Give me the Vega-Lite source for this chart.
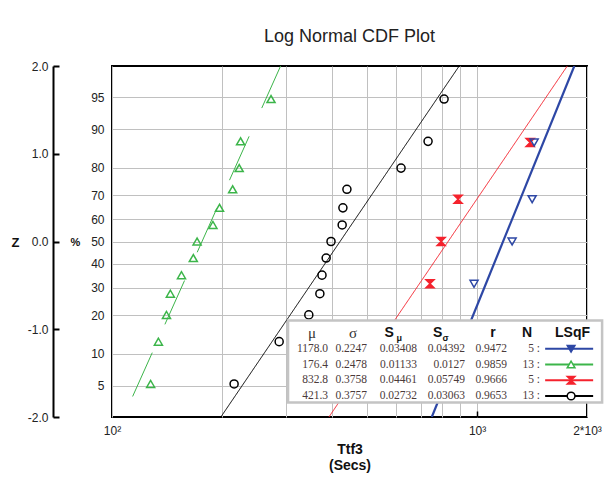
{
  "$schema": "https://vega.github.io/schema/vega-lite/v6.json",
  "autosize": {"type": "none"},
  "width": 475,
  "height": 351,
  "padding": {"left": 112, "top": 66, "right": 18, "bottom": 60},
  "background": "white",
  "title": {"text": "Log Normal CDF Plot", "fontSize": 18, "fontWeight": "normal", "font": "Liberation Sans", "color": "#222222", "anchor": "middle", "offset": 0, "baseline": "alphabetic"},
  "config": {
    "view": {"stroke": "#000000", "strokeWidth": 2},
    "font": "Liberation Sans",
    "axis": {"labelFont": "Liberation Sans", "titleFont": "Liberation Sans", "labelOverlap": false}
  },
  "datasets": {
    "points": [
      {"series": "green", "t": 127.6, "pct": 5.2, "z": -1.6236},
      {"series": "green", "t": 134, "pct": 12.7, "z": -1.1413},
      {"series": "green", "t": 141, "pct": 20.1, "z": -0.8363},
      {"series": "green", "t": 144.5, "pct": 27.6, "z": -0.5944},
      {"series": "green", "t": 155, "pct": 35.1, "z": -0.3833},
      {"series": "green", "t": 167, "pct": 42.5, "z": -0.1882},
      {"series": "green", "t": 171, "pct": 50, "z": 0},
      {"series": "green", "t": 189, "pct": 57.5, "z": 0.1882},
      {"series": "green", "t": 197, "pct": 64.9, "z": 0.3833},
      {"series": "green", "t": 214, "pct": 72.4, "z": 0.5944},
      {"series": "green", "t": 223, "pct": 79.9, "z": 0.8363},
      {"series": "green", "t": 225, "pct": 87.3, "z": 1.1413},
      {"series": "green", "t": 272.6, "pct": 94.8, "z": 1.6236},
      {"series": "black", "t": 216, "pct": 5.2, "z": -1.6236},
      {"series": "black", "t": 287, "pct": 12.7, "z": -1.1413},
      {"series": "black", "t": 346, "pct": 20.1, "z": -0.8363},
      {"series": "black", "t": 371, "pct": 27.6, "z": -0.5944},
      {"series": "black", "t": 376, "pct": 35.1, "z": -0.3833},
      {"series": "black", "t": 386, "pct": 42.5, "z": -0.1882},
      {"series": "black", "t": 398, "pct": 50, "z": 0},
      {"series": "black", "t": 427, "pct": 57.5, "z": 0.1882},
      {"series": "black", "t": 429, "pct": 64.9, "z": 0.3833},
      {"series": "black", "t": 440, "pct": 72.4, "z": 0.5944},
      {"series": "black", "t": 619, "pct": 79.9, "z": 0.8363},
      {"series": "black", "t": 734, "pct": 87.3, "z": 1.1413},
      {"series": "black", "t": 812, "pct": 94.8, "z": 1.6236},
      {"series": "red", "t": 545, "pct": 13, "z": -1.1282},
      {"series": "red", "t": 743, "pct": 31.5, "z": -0.4823},
      {"series": "red", "t": 797, "pct": 50, "z": 0},
      {"series": "red", "t": 887, "pct": 68.5, "z": 0.4823},
      {"series": "red", "t": 1397, "pct": 87, "z": 1.1282},
      {"series": "blue", "t": 914, "pct": 13, "z": -1.1282},
      {"series": "blue", "t": 981, "pct": 31.5, "z": -0.4823},
      {"series": "blue", "t": 1247, "pct": 50, "z": 0},
      {"series": "blue", "t": 1415, "pct": 68.5, "z": 0.4823},
      {"series": "blue", "t": 1433, "pct": 87, "z": 1.1282}
    ],
    "fits": [
      {"series": "blue", "t": 751.6, "z": -2},
      {"series": "blue", "t": 1846.4, "z": 2},
      {"series": "green", "t": 113.9, "z": -1.766},
      {"series": "green", "t": 289.6, "z": 2},
      {"series": "red", "t": 392.8, "z": -2},
      {"series": "red", "t": 1765.9, "z": 2},
      {"series": "black", "t": 198.7, "z": -2},
      {"series": "black", "t": 893.2, "z": 2}
    ],
    "table": [
      {"series": "blue", "mu": "1178.0", "sigma": "0.2247", "smu": "0.03408", "ssig": "0.04392", "r": "0.9472", "n": "5 :"},
      {"series": "green", "mu": "176.4", "sigma": "0.2478", "smu": "0.01133", "ssig": "0.0127", "r": "0.9859", "n": "13 :"},
      {"series": "red", "mu": "832.8", "sigma": "0.3758", "smu": "0.04461", "ssig": "0.05749", "r": "0.9666", "n": "5 :"},
      {"series": "black", "mu": "421.3", "sigma": "0.3757", "smu": "0.02732", "ssig": "0.03063", "r": "0.9653", "n": "13 :"}
    ]
  },
  "layer": [
    {
      "layer": [
        {
          "data": {"name": "fits"},
          "transform": [{"filter": "datum.series != 'blue'"}],
          "mark": {"type": "line", "strokeWidth": 1, "clip": true},
          "encoding": {
            "x": {
              "field": "t", "type": "quantitative",
              "scale": {"type": "log", "domain": [100, 2000], "nice": false},
              "axis": {
                "orient": "bottom",
                "values": [100, 200, 300, 400, 500, 600, 700, 800, 900, 1000, 2000],
                "tickCount": 30,
                "labelExpr": "datum.value == 100 ? '10²' : datum.value == 1000 ? '10³' : datum.value == 2000 ? '2*10³' : ''",
                "labelOverlap": false,
                "labelFlush": false,
                "labelFontSize": 12,
                "labelColor": "#222222",
                "labelPadding": 14,
                "title": ["Ttf3", "(Secs)"],
                "titleFontSize": 14,
                "titleFontWeight": "bold",
                "titleColor": "#111111",
                "titlePadding": 6,
                "grid": true,
                "gridColor": "#c0c0c0",
                "ticks": true,
                "tickSize": -6,
                "tickWidth": 1.5,
                "tickColor": {"condition": {"test": "datum.value == 1000", "value": "#000000"}, "value": "transparent"},
                "domain": false
              }
            },
            "y": {
              "field": "z", "type": "quantitative",
              "scale": {"domain": [-2, 2], "nice": false, "zero": false},
              "axis": {
                "values": [-1.6449, -1.2816, -0.8416, -0.5244, -0.2533, 0, 0.2533, 0.5244, 0.8416, 1.2816, 1.6449],
                "tickCount": 30,
                "labelExpr": "datum.value < -1.5 ? '5' : datum.value < -1 ? '10' : datum.value < -0.7 ? '20' : datum.value < -0.4 ? '30' : datum.value < -0.1 ? '40' : datum.value < 0.1 ? '50' : datum.value < 0.4 ? '60' : datum.value < 0.7 ? '70' : datum.value < 1 ? '80' : datum.value < 1.5 ? '90' : '95'",
                "labelOverlap": false,
                "labelFontSize": 12,
                "labelColor": "#222222",
                "labelPadding": 8,
                "labelFlush": false,
                "title": "%",
                "titleAngle": 0,
                "titleAlign": "center",
                "titleBaseline": "middle",
                "titleX": -37,
                "titleY": 176,
                "titleFontSize": 11,
                "titleFontWeight": "bold",
                "titleColor": "#111111",
                "grid": true,
                "gridColor": "#c0c0c0",
                "ticks": false,
                "domain": false
              }
            },
            "stroke": {"field": "series", "type": "nominal", "scale": {"domain": ["blue", "green", "red", "black"], "range": ["#2d47a5", "#3cb54a", "#f5222d", "#000000"]}, "legend": null},
            "strokeDash": {"field": "series", "type": "nominal", "scale": {"domain": ["blue", "green", "red", "black"], "range": [[1, 0], [48, 31], [1, 0], [1, 0]]}, "legend": null}
          }
        },
        {
          "data": {"name": "fits"},
          "transform": [{"filter": "datum.series == 'blue'"}],
          "mark": {"type": "line", "strokeWidth": 2.2, "clip": true},
          "encoding": {
            "x": {"field": "t", "type": "quantitative"},
            "y": {"field": "z", "type": "quantitative"},
            "stroke": {"field": "series", "type": "nominal", "legend": null}
          }
        },
        {
          "data": {"name": "points"},
          "mark": {"type": "point", "filled": true, "size": 65, "strokeWidth": 1.5, "opacity": 1},
          "encoding": {
            "x": {"field": "t", "type": "quantitative"},
            "y": {"field": "z", "type": "quantitative"},
            "shape": {"field": "series", "type": "nominal", "scale": {"domain": ["blue", "green", "red", "black"], "range": ["triangle-down", "triangle-up", "M-1,-1H1L0,0L1,1H-1L0,0Z", "circle"]}, "legend": null},
            "stroke": {"field": "series", "type": "nominal", "legend": null},
            "fill": {"field": "series", "type": "nominal", "scale": {"domain": ["blue", "green", "red", "black"], "range": ["transparent", "transparent", "#f5222d", "transparent"]}, "legend": null}
          }
        },
        {
          "data": {"values": [{"box": "legend"}]},
          "mark": {"type": "rect", "fill": "white", "stroke": "#c4c4c4", "strokeWidth": 2.5, "clip": false},
          "encoding": {
            "x": {"datum": 303.5, "type": "quantitative"},
            "x2": {"datum": 2200},
            "y": {"datum": -0.9, "type": "quantitative"},
            "y2": {"datum": -1.835}
          }
        }
      ]
    },
    {
      "data": {"values": [{"z": -2}, {"z": 2}]},
      "mark": {"type": "point", "opacity": 0},
      "encoding": {
        "y": {
          "field": "z", "type": "quantitative",
          "scale": {"domain": [-2, 2], "nice": false, "zero": false},
          "axis": {
            "orient": "left",
            "offset": 59,
            "values": [-2, -1, 0, 1, 2],
            "tickCount": 30,
            "labelExpr": "datum.value < 0 ? '-' + format(-datum.value, '.1f') : format(datum.value, '.1f')",
            "labelFontSize": 12,
            "labelColor": "#222222",
            "labelPadding": 11,
            "labelFlush": false,
            "title": "Z",
            "titleAngle": 0,
            "titleAlign": "center",
            "titleBaseline": "middle",
            "titleX": -38,
            "titleY": 176,
            "titleFontSize": 13,
            "titleFontWeight": "bold",
            "titleColor": "#111111",
            "grid": false,
            "domainColor": "#000000",
            "domainWidth": 2,
            "tickColor": "#000000",
            "tickWidth": 2,
            "tickSize": -6
          }
        }
      }
    },
    {
      "data": {"name": "table"},
      "encoding": {
        "y": {"field": "series", "type": "ordinal", "scale": {"type": "point", "domain": ["hdr", "blue", "green", "red", "black"], "range": [267, 330], "padding": 0}, "axis": null}
      },
      "layer": [
        {"mark": {"type": "text", "align": "right", "baseline": "middle", "font": "Liberation Serif", "fontSize": 11.5, "color": "#4a3a3a"},
         "encoding": {"x": {"datum": 390.7, "type": "quantitative"}, "text": {"field": "mu"}}},
        {"mark": {"type": "text", "align": "right", "baseline": "middle", "font": "Liberation Serif", "fontSize": 11.5, "color": "#4a3a3a"},
         "encoding": {"x": {"datum": 499.6, "type": "quantitative"}, "text": {"field": "sigma"}}},
        {"mark": {"type": "text", "align": "right", "baseline": "middle", "font": "Liberation Serif", "fontSize": 11.5, "color": "#4a3a3a"},
         "encoding": {"x": {"datum": 684.8, "type": "quantitative"}, "text": {"field": "smu"}}},
        {"mark": {"type": "text", "align": "right", "baseline": "middle", "font": "Liberation Serif", "fontSize": 11.5, "color": "#4a3a3a"},
         "encoding": {"x": {"datum": 927.1, "type": "quantitative"}, "text": {"field": "ssig"}}},
        {"mark": {"type": "text", "align": "right", "baseline": "middle", "font": "Liberation Serif", "fontSize": 11.5, "color": "#4a3a3a"},
         "encoding": {"x": {"datum": 1208.4, "type": "quantitative"}, "text": {"field": "r"}}},
        {"mark": {"type": "text", "align": "right", "baseline": "middle", "font": "Liberation Serif", "fontSize": 11.5, "color": "#4a3a3a"},
         "encoding": {"x": {"datum": 1487.6, "type": "quantitative"}, "text": {"field": "n"}}},
        {"mark": {"type": "rule", "strokeWidth": 2},
         "encoding": {"x": {"datum": 1536, "type": "quantitative"}, "x2": {"datum": 2079}, "stroke": {"field": "series", "type": "nominal", "legend": null}}},
        {"mark": {"type": "point", "filled": true, "size": 60, "strokeWidth": 1.5, "opacity": 1},
         "encoding": {
           "x": {"datum": 1809, "type": "quantitative"},
           "shape": {"field": "series", "type": "nominal", "legend": null},
           "stroke": {"field": "series", "type": "nominal", "legend": null},
           "fill": {"field": "series", "type": "nominal", "scale": {"domain": ["blue", "green", "red", "black"], "range": ["#2d47a5", "white", "#f5222d", "white"]}, "legend": null}
         }},
        {"data": {"values": [{"h": "mu"}]},
         "mark": {"type": "text", "text": "μ", "align": "center", "baseline": "middle", "font": "Liberation Serif", "fontSize": 15, "color": "#333333"},
         "encoding": {"x": {"datum": 353.1, "type": "quantitative"}, "y": {"datum": "hdr", "type": "ordinal"}}},
        {"data": {"values": [{"h": "sigma"}]},
         "mark": {"type": "text", "text": "σ", "align": "center", "baseline": "middle", "font": "Liberation Serif", "fontSize": 15, "color": "#333333"},
         "encoding": {"x": {"datum": 457.5, "type": "quantitative"}, "y": {"datum": "hdr", "type": "ordinal"}}},
        {"data": {"values": [{"h": "S"}]},
         "mark": {"type": "text", "text": "S", "align": "center", "baseline": "middle", "font": "Liberation Sans", "fontWeight": "bold", "fontSize": 14, "color": "#111111"},
         "encoding": {"x": {"datum": 574.1, "type": "quantitative"}, "y": {"datum": "hdr", "type": "ordinal"}}},
        {"data": {"values": [{"h": "Smu"}]},
         "mark": {"type": "text", "text": "μ", "align": "center", "baseline": "middle", "dy": 5, "font": "Liberation Sans", "fontWeight": "bold", "fontSize": 9, "color": "#111111"},
         "encoding": {"x": {"datum": 612, "type": "quantitative"}, "y": {"datum": "hdr", "type": "ordinal"}}},
        {"data": {"values": [{"h": "S"}]},
         "mark": {"type": "text", "text": "S", "align": "center", "baseline": "middle", "font": "Liberation Sans", "fontWeight": "bold", "fontSize": 14, "color": "#111111"},
         "encoding": {"x": {"datum": 779.5, "type": "quantitative"}, "y": {"datum": "hdr", "type": "ordinal"}}},
        {"data": {"values": [{"h": "Ssigma"}]},
         "mark": {"type": "text", "text": "σ", "align": "center", "baseline": "middle", "dy": 5, "font": "Liberation Sans", "fontWeight": "bold", "fontSize": 9, "color": "#111111"},
         "encoding": {"x": {"datum": 820, "type": "quantitative"}, "y": {"datum": "hdr", "type": "ordinal"}}},
        {"data": {"values": [{"h": "r"}]},
         "mark": {"type": "text", "text": "r", "align": "center", "baseline": "middle", "font": "Liberation Sans", "fontWeight": "bold", "fontSize": 14, "color": "#111111"},
         "encoding": {"x": {"datum": 1106, "type": "quantitative"}, "y": {"datum": "hdr", "type": "ordinal"}}},
        {"data": {"values": [{"h": "N"}]},
         "mark": {"type": "text", "text": "N", "align": "center", "baseline": "middle", "font": "Liberation Sans", "fontWeight": "bold", "fontSize": 14, "color": "#111111"},
         "encoding": {"x": {"datum": 1371, "type": "quantitative"}, "y": {"datum": "hdr", "type": "ordinal"}}},
        {"data": {"values": [{"h": "LSqF"}]},
         "mark": {"type": "text", "text": "LSqF", "align": "center", "baseline": "middle", "font": "Liberation Sans", "fontWeight": "bold", "fontSize": 14, "color": "#111111"},
         "encoding": {"x": {"datum": 1826, "type": "quantitative"}, "y": {"datum": "hdr", "type": "ordinal"}}}
      ]
    }
  ],
  "resolve": {"scale": {"y": "independent", "fill": "independent"}}
}
